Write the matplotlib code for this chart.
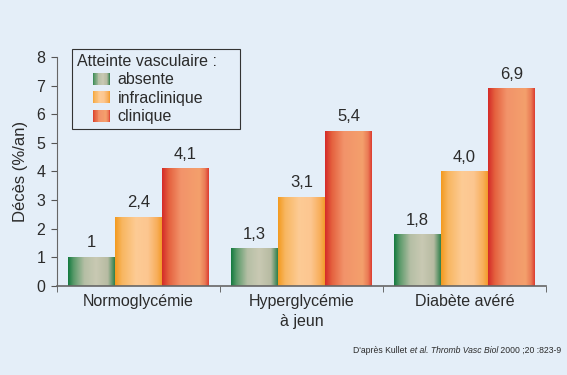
import numpy as np
import matplotlib
matplotlib.use("Agg")
import matplotlib.pyplot as plt
from matplotlib.colors import LinearSegmentedColormap
from matplotlib.legend_handler import HandlerBase
from matplotlib.patches import Rectangle, Patch

plt.rcParams['font.family'] = ['Liberation Sans', 'DejaVu Sans']

categories = ["Normoglycémie", "Hyperglycémie\nà jeun", "Diabète avéré"]
series_names = ["absente", "infraclinique", "clinique"]
absente = [1.0, 1.3, 1.8]
infraclinique = [2.4, 3.1, 4.0]
clinique = [4.1, 5.4, 6.9]
value_labels = [["1", "1,3", "1,8"], ["2,4", "3,1", "4,0"], ["4,1", "5,4", "6,9"]]
yticks = [0, 1, 2, 3, 4, 5, 6, 7, 8]

BG = "#e4eef8"
TXT = "#2b2b2b"

cmaps = [
    LinearSegmentedColormap.from_list("g", [(0, "#137a3f"), (0.12, "#5a9a6a"), (0.35, "#b5bfa5"), (0.6, "#c9c9b3"), (0.85, "#b7bba2"), (1, "#2f7f4b")]),
    LinearSegmentedColormap.from_list("o", [(0, "#f39a1e"), (0.15, "#f8b660"), (0.45, "#fdcb95"), (0.7, "#fcc690"), (0.9, "#f8ae5a"), (1, "#f29a2a")]),
    LinearSegmentedColormap.from_list("r", [(0, "#d42a28"), (0.15, "#e5623f"), (0.4, "#f2936a"), (0.8, "#f4a06c"), (0.92, "#ea7a55"), (1, "#dc3b30")]),
]


class GradHandler(HandlerBase):
    """Gradient square drawn in the right part of the handle box (indented)."""
    def __init__(self, cmap, frac=0.52):
        super().__init__()
        self.cmap = cmap
        self.frac = frac

    def create_artists(self, legend, orig_handle, xdescent, ydescent, width, height, fontsize, trans):
        n = 20
        arts = []
        sq = width * self.frac
        start = -xdescent + width - sq
        w = sq / n
        for i in range(n):
            r = Rectangle((start + i * w, -ydescent), w * 1.05, height,
                          facecolor=self.cmap((i + 0.5) / n), edgecolor="none", transform=trans)
            arts.append(r)
        return arts


fig = plt.figure(figsize=(5.67, 3.75), dpi=100, facecolor=BG)
ax = fig.add_axes([57 / 567, 89 / 375, 489 / 567, 229 / 375])
ax.set_facecolor(BG)

x = np.arange(len(categories))
w = 0.288
data = [absente, infraclinique, clinique]
grad = np.linspace(0, 1, 256).reshape(1, -1)
handles = []
for k, (vals, cm) in enumerate(zip(data, cmaps)):
    bars = ax.bar(x + (k - 1) * w, vals, width=w, color="none", edgecolor="none", zorder=2)
    for b, lab in zip(bars, value_labels[k]):
        x0, bw, h = b.get_x(), b.get_width(), b.get_height()
        ax.imshow(grad, cmap=cm, aspect="auto", extent=[x0, x0 + bw, 0, h], zorder=2,
                  interpolation="bilinear")
        ax.annotate(lab, (x0 + bw / 2, h), xytext=(0, 5), textcoords="offset points",
                    ha="center", va="bottom", fontsize=12, color=TXT)
    handles.append(Patch(label=series_names[k]))

ax.set_xlim(-0.5, 2.5)
ax.set_ylim(0, 8)
ax.set_yticks(yticks)
ax.set_yticklabels([str(t) for t in yticks])
ax.set_xticks(x)
ax.set_xticklabels(categories, fontsize=11.5, color=TXT, linespacing=1.35)
ax.tick_params(axis="x", length=0, pad=6)
ax.set_xticks([-0.5, 0.5, 1.5, 2.5], minor=True)
ax.tick_params(axis="x", which="minor", length=4, direction="out", color="#555555")
ax.tick_params(axis="y", length=4.5, direction="out", color="#555555", labelsize=11.5, labelcolor=TXT, pad=4)
for s in ["top", "right"]:
    ax.spines[s].set_visible(False)
ax.spines["left"].set_color("#666666")
ax.spines["bottom"].set_color("#666666")
ax.spines["bottom"].set_linewidth(1.2)
ax.set_ylabel("Décès (%/an)", fontsize=12, color=TXT, labelpad=6)

leg = ax.legend(handles=handles, handler_map={h: GradHandler(c) for h, c in zip(handles, cmaps)},
                title="Atteinte vasculaire :    ", loc="upper left", bbox_to_anchor=(15 / 489, 1.035),
                frameon=True, fancybox=False, fontsize=11.5, title_fontsize=11.5,
                handlelength=2.05, handleheight=0.75, handletextpad=0.5, labelspacing=0.22,
                borderpad=0.3, borderaxespad=0, edgecolor="#333333", facecolor=BG, framealpha=1)
leg._legend_box.align = "left"
leg.get_frame().set_linewidth(0.8)
for t in leg.get_texts():
    t.set_color(TXT)
leg.get_title().set_color(TXT)

# source line with italic parts, placed right to left on a common baseline
parts = [("D'après Kullet ", "normal"), ("et al. Thromb Vasc Biol", "italic"), (" 2000 ;20 :823-9", "normal")]
renderer = fig.canvas.get_renderer()
xr = 561 / 567
yb = 22 / 375
for txt, style in reversed(parts):
    t = fig.text(xr, yb, txt, ha="right", va="baseline", fontsize=6.2, fontstyle=style, color=TXT)
    bb = t.get_window_extent(renderer)
    xr = bb.x0 / fig.bbox.width

fig.savefig("out.png", dpi=100, facecolor=BG)
